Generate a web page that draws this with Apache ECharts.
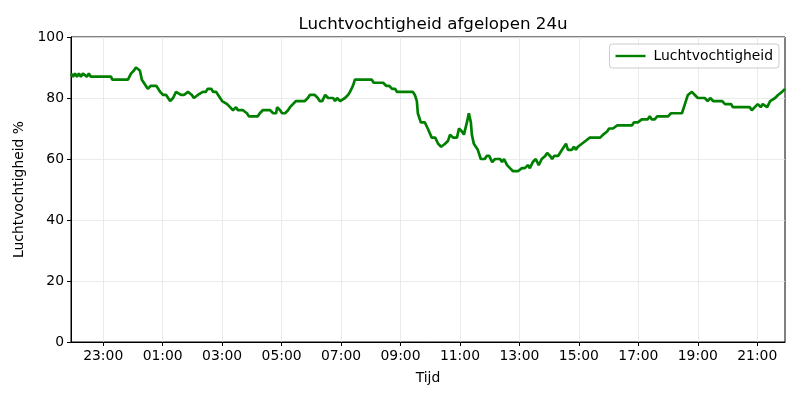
<!DOCTYPE html>
<html>
<head>
<meta charset="utf-8">
<script src="https://cdn.jsdelivr.net/npm/echarts@6/dist/echarts.min.js"></script>
<style>html,body{margin:0;padding:0;background:#fff}#c{width:800px;height:400px}</style>
</head>
<body>
<div id="c"></div>
<script>
const times = ["21:55","21:59","22:03","22:07","22:11","22:15","22:19","22:23","22:27","22:31","22:35","22:39","23:16","23:18","23:50","23:56","00:02","00:06","00:10","00:14","00:18","00:22","00:26","00:30","00:36","00:47","00:51","00:55","01:01","01:07","01:11","01:15","01:21","01:27","01:31","01:37","01:43","01:51","01:55","01:59","02:03","02:11","02:21","02:27","02:31","02:38","02:42","02:48","02:52","03:00","03:10","03:16","03:22","03:28","03:32","03:42","03:50","03:54","04:12","04:16","04:22","04:37","04:43","04:49","04:51","04:57","05:01","05:07","05:13","05:17","05:23","05:29","05:47","05:53","05:57","06:07","06:13","06:17","06:22","06:28","06:34","06:44","06:48","06:52","06:58","07:02","07:08","07:14","07:18","07:24","07:28","08:02","08:06","08:25","08:31","08:37","08:43","08:49","08:53","09:25","09:29","09:33","09:35","09:41","09:49","09:55","09:59","10:03","10:10","10:16","10:22","10:26","10:30","10:36","10:40","10:46","10:54","10:58","11:04","11:08","11:14","11:18","11:22","11:24","11:28","11:36","11:42","11:50","11:54","11:59","12:05","12:11","12:21","12:25","12:29","12:35","12:41","12:47","12:57","13:05","13:11","13:17","13:21","13:27","13:33","13:39","13:45","13:52","13:56","14:02","14:06","14:10","14:18","14:26","14:34","14:38","14:46","14:50","14:54","14:58","15:06","15:14","15:22","15:43","15:49","15:57","16:01","16:09","16:17","16:47","16:51","16:59","17:07","17:19","17:23","17:27","17:33","17:38","18:00","18:06","18:28","18:34","18:40","18:48","18:54","19:00","19:14","19:20","19:25","19:31","19:49","19:55","20:07","20:11","20:45","20:49","20:55","21:01","21:07","21:11","21:20","21:26","21:36","21:42","21:50","21:56"];
const humidity = [88,87,88,87,88,87,88,88,87,88,87,87,87,86,86,88,89,90,90,89,86,85,85,83,84,84,83,82,81,81,80,79,80,82,82,81,81,82,82,81,80,81,82,82,83,83,82,82,81,79,78,77,76,77,76,76,75,74,74,75,76,76,75,75,77,76,75,75,76,77,78,79,79,80,81,81,80,79,79,81,80,80,79,80,79,79,80,81,82,84,86,86,85,85,84,84,83,83,82,82,81,79,75,72,72,70,70,67,67,65,64,64,65,66,68,67,67,70,69,68,72,75,72,68,65,63,60,60,61,61,59,60,60,59,60,58,57,56,56,57,57,58,57,59,60,58,60,61,62,61,60,61,61,63,65,63,63,64,63,64,65,66,67,67,68,69,70,70,71,71,72,72,73,73,74,73,73,74,74,75,75,78,81,82,81,80,80,79,80,79,79,78,78,77,77,76,77,78,77,78,77,79,80,81,82,83];
const tickHours = [23,25,27,29,31,33,35,37,39,41,43,45];
const yTicks = [0,20,40,60,80,100];

const seriesData = [];
let prev = -1, dayOffset = 0;
for (let i = 0; i < times.length; i++) {
  const [h, m] = times[i].split(':').map(Number);
  let v = h + m / 60 + dayOffset;
  if (v < prev) { dayOffset += 24; v += 24; }
  prev = v;
  seriesData.push([v, humidity[i]]);
}
const fmt = v => String(Math.round(v) % 24).padStart(2, '0') + ':00';
const font = 'DejaVu Sans';
const chart = echarts.init(document.getElementById('c'), null, {renderer: 'canvas'});
chart.setOption({
  animation: false,
  backgroundColor: '#fff',
  textStyle: {fontFamily: font},
  title: {
    text: 'Luchtvochtigheid afgelopen 24u',
    left: 428, top: 11, textAlign: 'center',
    textStyle: {fontFamily: font, fontSize: 16.7, fontWeight: 'normal', color: '#000'}
  },
  legend: {
    right: 21, top: 44,
    itemWidth: 30, itemHeight: 14, itemGap: 8,
    padding: [5, 6, 5, 6],
    borderColor: '#cccccc', borderWidth: 1, borderRadius: 3,
    backgroundColor: 'rgba(255,255,255,0.8)',
    textStyle: {fontFamily: font, fontSize: 13.9, color: '#000', padding: [0, 0, 0, 3]},
    data: [{name: 'Luchtvochtigheid', icon: 'path://M0,5.8 L30,5.8 L30,8.2 L0,8.2 Z'}]
  },
  grid: {
    left: 71, right: 15, top: 37, bottom: 58,
    show: true, borderColor: '#000', borderWidth: 1
  },
  xAxis: {
    type: 'value',
    min: 'dataMin', max: 'dataMax',
    name: 'Tijd', nameLocation: 'middle', nameGap: 29,
    nameTextStyle: {fontFamily: font, fontSize: 13.9, color: '#000'},
    axisLine: {show: true, lineStyle: {color: '#000', width: 1}},
    axisTick: {show: true, length: 4, inside: false, customValues: tickHours, lineStyle: {color: '#000'}},
    axisLabel: {customValues: tickHours, formatter: fmt, margin: 7, fontFamily: font, fontSize: 13.9, color: '#000'},
    splitLine: {show: true, lineStyle: {color: '#e6e6e6', width: 0.8}}
  },
  yAxis: {
    type: 'value', min: 0, max: 100, interval: 20,
    name: 'Luchtvochtigheid %', nameLocation: 'middle', nameGap: 42, nameRotate: 90,
    nameTextStyle: {fontFamily: font, fontSize: 13.9, color: '#000'},
    axisLine: {show: true, lineStyle: {color: '#000', width: 1}},
    axisTick: {show: true, length: 4, lineStyle: {color: '#000'}},
    axisLabel: {margin: 7, fontFamily: font, fontSize: 13.9, color: '#000'},
    splitLine: {show: true, lineStyle: {color: '#e6e6e6', width: 0.8}}
  },
  series: [{
    name: 'Luchtvochtigheid',
    type: 'line',
    data: seriesData,
    showSymbol: false,
    symbol: 'none',
    color: '#008000',
    lineStyle: {color: '#008000', width: 2.7},
    clip: true
  }]
});
</script>
</body>
</html>
